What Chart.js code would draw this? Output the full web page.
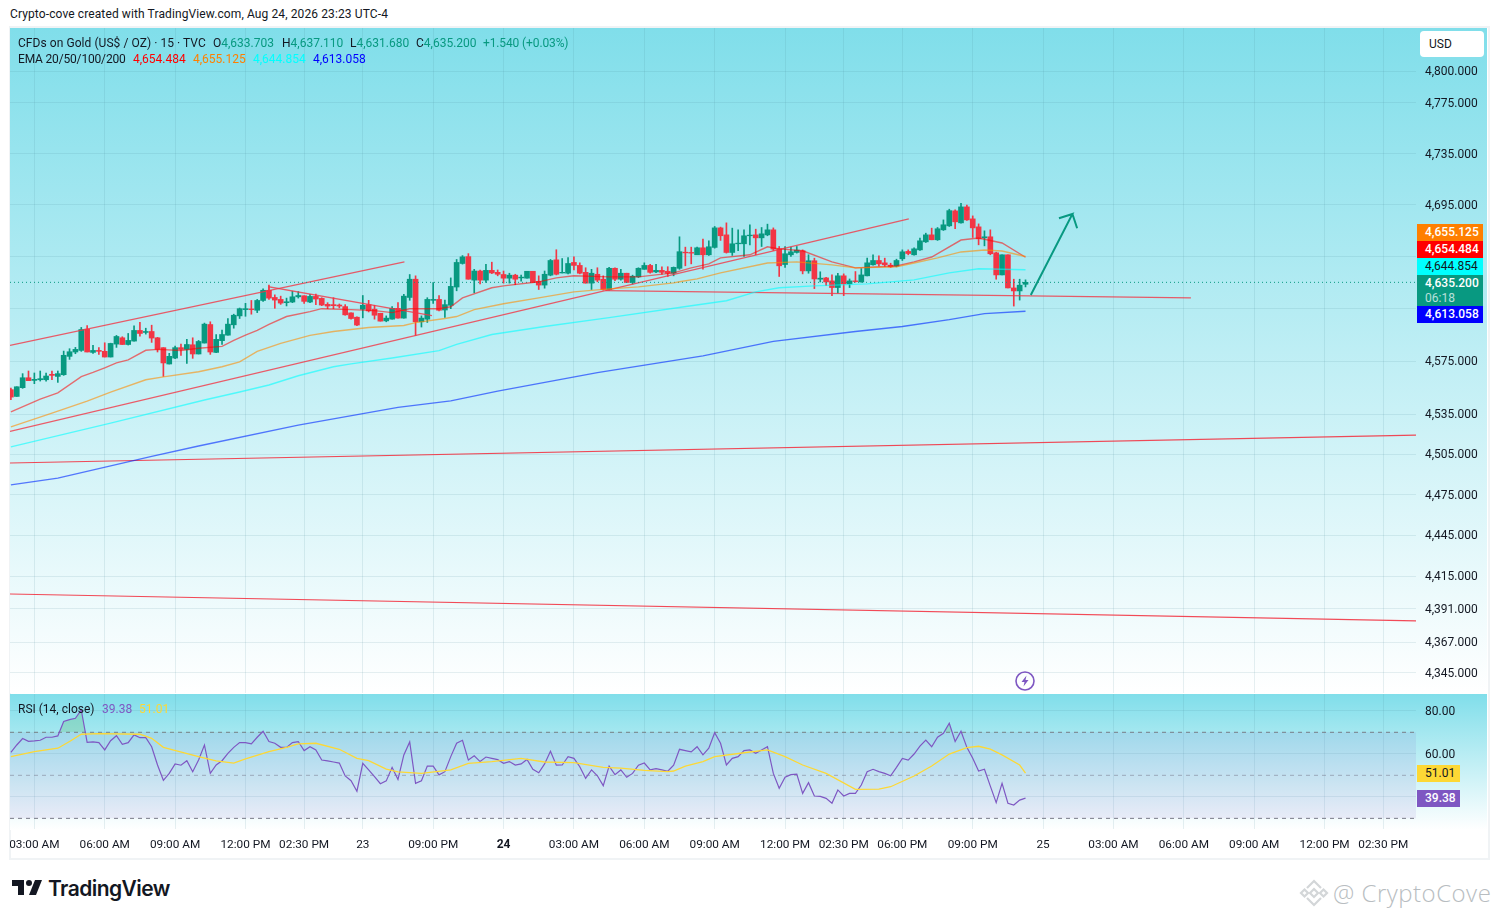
<!DOCTYPE html>
<html>
<head>
<meta charset="utf-8">
<title>CFDs on Gold</title>
<script src="https://cdn.jsdelivr.net/npm/chart.js@4"></script>
<style>
html,body{margin:0;padding:0;background:#fff;width:1498px;height:918px;overflow:hidden;font-family:Roboto,sans-serif;font-size:12px;color:#131722}
.abs{position:absolute;white-space:nowrap;line-height:16px}
#frame{position:absolute;left:9px;top:26px;width:1477px;height:830px;border:2px solid #f0f3f5}
#mainBg{position:absolute;left:10px;top:28px;width:1477px;height:665px;background:linear-gradient(#80deea,#fff)}
#rsiBg{position:absolute;left:10px;top:694px;width:1477px;height:136px;background:linear-gradient(#80deea,#fff)}
canvas{position:absolute;left:10px}
.tag{position:absolute;left:1417px;width:66px;text-align:left;padding-left:8px;box-sizing:border-box;line-height:17px;height:17px;font-weight:500;color:#fff}
</style>
</head>
<body>
<div id="frame"></div>
<div id="mainBg"></div>
<div id="rsiBg"></div>
<canvas id="mainChart" style="top:28px" width="1478" height="665"></canvas>
<canvas id="rsiChart" style="top:694px" width="1478" height="164"></canvas>

<div class="abs" style="left:10px;top:6px;letter-spacing:.11px">Crypto-cove created with TradingView.com, Aug 24, 2026 23:23 UTC-4</div>

<div class="abs" style="left:18px;top:34.5px;letter-spacing:.06px">CFDs on Gold (US$ / OZ) · 15 · TVC</div>
<div class="abs" style="left:213px;top:34.5px">O<span style="color:#089981">4,633.703</span></div>
<div class="abs" style="left:282px;top:34.5px">H<span style="color:#089981">4,637.110</span></div>
<div class="abs" style="left:350px;top:34.5px">L<span style="color:#089981">4,631.680</span></div>
<div class="abs" style="left:416px;top:34.5px">C<span style="color:#089981">4,635.200</span></div>
<div class="abs" style="left:483px;top:34.5px;color:#089981;letter-spacing:-.12px">+1.540 (+0.03%)</div>
<div class="abs" style="left:18px;top:51px;letter-spacing:-.17px">EMA 20/50/100/200</div>
<div class="abs" style="left:133px;top:51px;color:#ff0000">4,654.484</div>
<div class="abs" style="left:193px;top:51px;color:#ff7f00">4,655.125</div>
<div class="abs" style="left:253px;top:51px;color:#00ffff">4,644.854</div>
<div class="abs" style="left:313px;top:51px;color:#0000ff">4,613.058</div>

<div class="abs" style="left:1420px;top:31px;width:64px;height:26px;background:#fff;border-radius:4px;line-height:26px;text-indent:9px">USD</div>

<div class="tag" style="top:224px;background:#ff7f00">4,655.125</div>
<div class="tag" style="top:241px;background:#ff0000">4,654.484</div>
<div class="tag" style="top:258px;background:#00ffff;color:#131722;font-weight:400">4,644.854</div>
<div class="tag" style="top:275px;height:31px;background:#089981">4,635.200<br><span style="font-weight:400;opacity:.7;position:relative;top:-2px">06:18</span></div>
<div class="tag" style="top:306px;background:#0000ff">4,613.058</div>

<div class="abs" style="left:18px;top:701px">RSI (14, close)</div>
<div class="abs" style="left:102px;top:701px;color:#7e57c2">39.38</div>
<div class="abs" style="left:139px;top:701px;color:#fdd835">51.01</div>
<div class="tag" style="top:765px;width:43px;background:#fdd835;color:#131722;font-weight:400">51.01</div>
<div class="tag" style="top:790px;width:43px;background:#7e57c2">39.38</div>

<svg class="abs" style="left:1015px;top:671px" width="20" height="20" viewBox="0 0 20 20">
  <circle cx="10" cy="10" r="9" fill="none" stroke="#7e57c2" stroke-width="1.6"/>
  <path d="M11.5 4.5 6.5 11h3l-1 4.5 5-6.5h-3z" fill="#7e57c2"/>
</svg>

<svg class="abs" style="left:10px;top:874px" width="36" height="28" viewBox="0 0 36 28">
  <path fill="#131722" d="M14 6H2v6h6v9h6V6Zm12 15h-7l6-15h7l-6 15Zm-7-9a3 3 0 1 0 0-6 3 3 0 0 0 0 6Z"/>
</svg>
<div class="abs" style="left:48px;top:877px;font-family:Inter,sans-serif;font-weight:600;font-size:21px;line-height:24px;letter-spacing:-.55px">TradingView</div>

<svg class="abs" style="left:1299px;top:878px" width="30" height="30" viewBox="0 0 30 30">
  <g fill="none" stroke="#d3d6d8" stroke-width="2.2">
    <path d="M8 10 15 3l7 7"/><path d="M8 20l7 7 7-7"/>
    <path d="M2 15l3.5-3.5L9 15l-3.5 3.5z"/><path d="M21 15l3.5-3.5L28 15l-3.5 3.5z"/>
    <path d="M11 15l4-4 4 4-4 4z"/>
  </g>
</svg>
<div class="abs" style="left:1333px;top:878px;font-family:'Open Sans',sans-serif;font-weight:300;font-size:24px;line-height:30px;color:#b8bdc1;letter-spacing:.5px">@ CryptoCove</div>

<script>
// ---- candles (15 min bars, price in USD/oz) ----
const opens = [
4553.5,4548.4,4555,4562.5,4560.5,4561,4561,4565.1,4563.5,4564.8,
4578.7,4582,4583.2,4599.4,4581.7,4583.2,4582.5,4578.2,4588,4592.8,
4587.7,4590.3,4598.4,4596.9,4597.6,4592.8,4585.3,4572.9,4577.4,4585.3,
4584,4587.5,4580.5,4588.8,4602.9,4581.7,4590.6,4594.8,4602.7,4609.5,
4614.3,4614.8,4613.8,4621.3,4629.1,4623.6,4622.1,4619.6,4620.1,4624.1,
4624.9,4620.1,4624.4,4622.9,4618.3,4618.1,4617.8,4616.6,4611.8,4608.5,
4614.6,4618.1,4614.6,4611.5,4605.7,4607,4615.3,4607.8,4623.6,4637.6,
4605,4607,4621.4,4622.1,4614,4617.6,4631.6,4649.7,4655,4636.9,
4643.9,4636.9,4644.4,4642.9,4641.2,4638.4,4640.7,4638.6,4638.4,4643.7,
4635.9,4633.1,4640.7,4652.5,4642.4,4642.2,4650.5,4648.2,4642.9,4634.6,
4641.4,4637.6,4629.7,4646,4637.6,4642.2,4635.1,4639.4,4645.2,4648.2,
4643.2,4644.4,4643.7,4642.2,4646,4658.4,4658.2,4656.4,4661.8,4656.4,
4662.1,4677.2,4671.8,4658.2,4664.9,4664.9,4671.1,4671.8,4669.5,4671.8,
4675.7,4661,4648.9,4656.4,4658.2,4659.5,4644,4651.8,4637.6,4638.6,
4636.3,4631.2,4640.2,4634,4636.3,4635.5,4640.2,4648.7,4652,4650.2,
4648.4,4647.6,4653.3,4659,4656.4,4660.2,4666.4,4671.8,4668,4675.7,
4678.8,4690.4,4681.1,4693.5,4684.2,4678,4669.5,4670.3,4657.9,4640.9,
4656.4,4630.9,4628.6,4633.703];
const highs = [
4554.7,4555.7,4565.6,4567.6,4566.1,4567.6,4566.1,4567.6,4567.6,4582.7,
4584.5,4585.5,4600.7,4602.2,4587,4585.3,4589,4588.7,4594.6,4593.6,
4596.1,4602,4604.5,4600.1,4602.4,4593.1,4585.3,4581,4586.5,4588,
4591.6,4592.8,4590.8,4604,4605,4595.3,4598.6,4607.5,4610.8,4615.5,
4619.1,4621.3,4622.1,4630.2,4633.1,4625.6,4624.6,4623.1,4628.4,4628.1,
4624.9,4625.9,4626.1,4623.4,4619.6,4623.4,4618.6,4618.1,4611.8,4608.8,
4625.1,4621.4,4617.6,4611.5,4609.5,4616.6,4619.6,4625.9,4641.2,4640.2,
4609.5,4623.4,4635.1,4625.1,4621.6,4638.6,4652.8,4655.8,4657.3,4645.2,
4644.7,4649,4650.7,4644.7,4643.9,4642.2,4641.4,4640.7,4643.7,4643.7,
4640.2,4643.9,4652.8,4660.3,4653.5,4654.3,4654.8,4650.2,4646.4,4645.2,
4646.4,4640.2,4646.7,4646.4,4645.2,4642.2,4640.7,4646.4,4650.2,4649,
4649,4647.2,4647.2,4647,4670.3,4662.3,4662.3,4662.3,4668.5,4667.2,
4678.3,4677.8,4681.1,4677,4675.7,4675.7,4679.6,4676.2,4677.5,4680.1,
4677.2,4662.8,4662.8,4662.3,4662.8,4660.2,4656.4,4653.8,4643.3,4639.1,
4640.9,4642.2,4641.7,4637.8,4643.5,4645.8,4653.8,4656.4,4655.6,4653.8,
4649.9,4653,4660.2,4660.2,4661.8,4669.3,4673.1,4677,4677.5,4683.4,
4691.7,4691.2,4696.3,4695,4686.5,4680.3,4674.9,4675.7,4658.4,4656.4,
4656.4,4637.6,4637.6,4637.11];
const lows = [
4545.9,4548.4,4554.5,4560.3,4558,4560,4560,4561,4559,4564.3,
4576.4,4580.7,4582.5,4582,4581,4580.2,4578.2,4578.2,4585.5,4587.7,
4587.3,4590.3,4594.1,4595.6,4589.3,4582,4563.5,4572.9,4576.9,4579.5,
4573.4,4577.2,4580.5,4588.8,4580.2,4581.5,4587.7,4594.8,4600.1,4607.5,
4609.2,4610.8,4612,4620.6,4622.1,4615.3,4618.3,4617.1,4619.6,4623.1,
4619.1,4619.6,4618.1,4617.3,4615,4615,4615.6,4610,4607,4602,
4608,4612.5,4607,4605.5,4605,4607,4607.8,4607.8,4621.4,4594.6,
4601,4604.5,4619.1,4613.3,4608.3,4615,4628.7,4649.2,4637.6,4627.2,
4633.9,4635.1,4641.9,4640.2,4634.6,4634.6,4633.4,4636.1,4638.4,4635.1,
4629.7,4630.7,4640.2,4640.9,4642.4,4641.7,4644.7,4641.7,4634.6,4629.7,
4635.6,4629.2,4629.2,4636.4,4636.9,4635.1,4633.9,4638.9,4645.2,4642.2,
4642.7,4641.4,4639.7,4640.2,4645.2,4647.9,4649.4,4656.4,4645.3,4655.9,
4661.5,4667.5,4657.7,4655.9,4659.5,4655.1,4664.1,4656.4,4662.8,4671.1,
4659.7,4639.7,4646.6,4655.1,4657.7,4641.7,4642.2,4630.4,4635.5,4632.7,
4625,4626.8,4625,4631.2,4635.3,4635.3,4640.2,4648.4,4647.9,4647.4,
4646.6,4647.1,4652,4656.4,4656.1,4659.7,4665.9,4668,4667.5,4675.2,
4678.3,4676.5,4680.9,4682.9,4669.8,4664.1,4663.3,4656.4,4637.6,4640.9,
4630.9,4617,4621.6,4631.68];
const closes = [
4547.9,4555.7,4562.5,4560.3,4561.3,4561.8,4563.8,4564.3,4565.6,4579.5,
4582.2,4584,4599.1,4582,4583.2,4582.5,4578.2,4588.5,4593.8,4587.7,
4590.8,4598.4,4596.1,4597.6,4592.6,4584,4573.7,4578.7,4585.3,4584,
4587.7,4580.5,4590,4603.2,4582,4591.6,4595.3,4603.2,4610,4615,
4615,4614.3,4621.3,4629.1,4623.1,4621.6,4619.3,4620.3,4624.1,4625.1,
4620.6,4624.4,4622.4,4617.8,4617,4617.3,4617,4610.3,4607.5,4602.5,
4617.6,4613.3,4610,4605.5,4607.8,4615.3,4607.8,4624.6,4637.6,4605,
4607.8,4622.1,4622.1,4613.8,4618.1,4632.1,4650.5,4654.8,4637.6,4643.9,
4636.9,4644.4,4642.4,4641.4,4638.4,4640.7,4637.6,4639.2,4643.7,4635.1,
4633.1,4641.4,4652,4641.4,4642.9,4649.7,4648.2,4642.2,4634.6,4642.2,
4636.9,4629.7,4646,4637.6,4642.2,4635.1,4639.9,4646,4648.2,4642.9,
4644.4,4642.9,4642.2,4646.7,4658.8,4657.9,4657.7,4661.8,4656.4,4662.6,
4677.2,4671.1,4658.2,4664.9,4665.4,4671.1,4671.6,4669.5,4672.6,4675.7,
4660.8,4647.9,4657.2,4658.7,4660,4644,4651.8,4637.8,4638.4,4635.5,
4631.2,4640.2,4634,4636.3,4635.8,4640.9,4650.2,4652,4649.4,4648.7,
4647.1,4652,4658.7,4657.4,4661,4667.2,4671.8,4668,4676.5,4679.6,
4690.6,4681.9,4693.5,4683.4,4677.2,4668.7,4670.3,4657.2,4640.9,4656.4,
4630.9,4628.6,4633,4635.2];

// ---- moving averages, read at their visible bends: [bar index], [value] ----
const ema20Bars = [0,5,8,12,14,16,18,20,23,25,29,32,36,38,40,42,44,47,51,53,58,62,65,68,73,75,77,82,84,90,93,96,102,107,113,116,119,121,126,129,131,135,140,144,151,154,157,162,165,169,173];
const ema20 = [4536.7,4546.4,4551.1,4563.4,4566.5,4570,4573.8,4576,4583.3,4584,4583.2,4584.8,4586.3,4590.8,4594.8,4598.4,4603,4609,4612.8,4615,4614.3,4613.5,4612,4615,4615,4616.5,4623.3,4631,4632.5,4635.6,4638.6,4640.2,4639.4,4639.4,4642.5,4646.3,4649.4,4654,4656.4,4662.6,4661,4659.5,4650.9,4646.3,4647.8,4650.9,4654.7,4667.8,4669.4,4665.5,4654.484];
const ema50Bars = [0,7,13,17,23,26,32,36,39,42,46,51,55,58,61,67,69,74,76,79,84,90,96,102,107,113,114,117,119,121,129,134,140,144,151,154,158,162,166,169,173];
const ema50 = [4525.5,4535.8,4544.9,4551.7,4561,4563.2,4567,4570.8,4574.5,4582.5,4588.6,4594.6,4597.6,4599.1,4600.6,4602.2,4604.4,4607.5,4609,4614.3,4618.8,4623.3,4627.9,4630.2,4631.7,4634.8,4635.6,4637.9,4640.2,4642.5,4650.1,4650.9,4648.6,4646.3,4647.1,4650.1,4654,4658.6,4660.1,4659.3,4655.125];
const ema100Bars = [0,17,33,39,44,49,55,58,65,73,76,82,91,102,116,122,127,131,137,146,154,160,165,173];
const ema100 = [4510.5,4528.3,4545.7,4551.7,4557,4564,4570.8,4573,4577.5,4583,4587.8,4595.3,4601.4,4608.2,4617.3,4621.1,4627.9,4631,4632.5,4634,4637.1,4642.5,4645.6,4644.854];
const ema200Bars = [0,8,24,32,49,66,75,83,100,118,130,144,152,160,166,173];
const ema200 = [4482.2,4487.3,4503.5,4511.2,4526.8,4540.2,4545,4552.4,4566.3,4579,4590,4597.6,4601.4,4606.7,4611.3,4613.058];

// ---- hand-drawn trend lines: [bar index], [price] ----
const upperChannelBars = [-0.15,67.1];      const upperChannel = [4587,4650.9];
const lowerChannelBars = [-0.15,153.1];     const lowerChannel = [4522.2,4684.2];
const wedgeBars = [44,44,71.8];             const wedge = [4627.2,4631.7,4609.7];
const supportBars = [101.4,201.2];          const support = [4628.9,4623.3];
const highLineBars = [-0.15,239.58];        const highLine = [4498.5,4519.4];
const lowLineBars = [-0.15,239.58];         const lowLine = [4401.9,4382.3];
const arrowBars = [173.9,181,178.7,181,181.8];
const arrowPrices = [4625.5,4688,4684.7,4688,4676.9];
const lastPrice = 4635.2;

// ---- axes ----
const priceTicks = [4800,4775,4735,4695,4655,4615,4575,4535,4505,4475,4445,4415,4391,4367,4345];
const timeBars = [4,16,28,40,50,60,72,84,96,108,120,132,142,152,164,176,188,200,212,224,234];
const timeLabels = ['03:00 AM','06:00 AM','09:00 AM','12:00 PM','02:30 PM','23','09:00 PM','24','03:00 AM','06:00 AM','09:00 AM','12:00 PM','02:30 PM','06:00 PM','09:00 PM','25','03:00 AM','06:00 AM','09:00 AM','12:00 PM','02:30 PM'];
const boldTimeBars = [84];
const rsiTicks = [80,60,40];

// ---- RSI(14) per bar and its smoothing line ----
const rsi = [
60.7,64.1,67.1,65.8,66,66.3,67.7,67.7,68.3,75,
75.9,76.5,80.4,65.3,65.5,65.2,61.8,66.1,68.4,64.4,
65.2,68.8,67.5,67.5,63.3,54.8,47.7,50.9,55.3,54.7,
56.8,51.7,57.1,64.1,50.9,54.8,56.8,60.2,63,65.2,
65.2,64.6,67.7,70.5,65.7,64.9,63,63,65.2,65.7,
61.5,63.3,61.8,57.1,56.7,56.2,55.7,49.7,47.5,42.6,
55.6,52.5,49.4,46.1,47.4,53.7,48.1,59.5,65.5,46.3,
47.5,54.3,54.3,50.2,51.7,58.7,64.9,66.3,57.1,59.1,
56.4,58.5,57.9,57.3,55.6,56.4,54.8,55.3,57.4,52.8,
51.2,55.3,61.2,54.7,54.8,58.7,57.9,54,48.6,52.5,
49.8,45.2,54.3,50.3,52.5,49.1,50.9,54.7,55.7,52.5,
53.1,52.5,51.9,54.7,62.1,61.5,60.9,63.3,59.5,62.6,
69.8,64.9,54.8,57.9,58.7,61.5,61.8,60.2,61.8,63.3,
50.9,44,49.1,50.3,50.6,41.6,46.6,40.4,40.2,39.3,
37,43.2,40.4,41.6,41.6,45.5,51.7,52.8,51.7,50.9,
49.8,53.7,57.9,57.1,59.9,63.6,66.4,63.3,67.7,69.5,
74.2,65.7,70.5,63,57.9,52,52.8,45,37.3,46.3,
37,36.2,38.5,39.38];
const rsiMaBars = [0,4,8,10,12,15,22,24,26,32,35,38,40,44,47,49,52,56,59,61,64,66,70,75,78,82,87,91,96,101,104,108,112,113,115,118,120,125,129,132,135,139,144,148,150,154,157,160,163,165,167,169,172,173];
const rsiMa = [58.7,61,62.6,65.7,69.1,69.4,69.1,67.2,63,58.7,56.7,55.7,57.6,61,63,64.6,64.9,62.1,57.9,56.8,52.9,51.6,50.9,52.5,55.6,56.4,57.9,56.2,55.9,53.7,53.3,52.3,51.7,52,54.3,56.4,58.7,60.5,61.8,58.7,54.8,50.9,43.5,43.6,44.7,49.7,54.3,59.9,62.9,63.5,62.2,59.5,54.8,51.01];
const rsiUpper = 70, rsiMiddle = 50, rsiLower = 30;

// ---- helpers ----
const xMin = -0.153, xMax = 239.58;
const UP = '#089981', DOWN = '#f23645';
const GRID = 'rgba(70,130,150,0.13)';
const FONT = {family:'Roboto, sans-serif', size:12};
const zip = (xs, ys) => xs.map((x,i)=>({x, y:ys[i]}));
const lineDs = (xs, ys, color, width, extra) => Object.assign({
  type:'line', data:zip(xs,ys), borderColor:color, borderWidth:width,
  pointRadius:0, tension:0, fill:false, order:1
}, extra||{});
const barColors = closes.map((c,i)=> c>=opens[i] ? UP : DOWN);
const barIdx = closes.map((_,i)=>i);
const xScale = (extra) => Object.assign({
  type:'linear', min:xMin, max:xMax, bounds:'data', offset:false,
  grid:{color:GRID, drawTicks:false, offset:false},
  border:{display:false},
  afterBuildTicks:s=>{s.ticks = timeBars.map(v=>({value:v}));},
}, extra);
const zeroPad = s => {s.paddingLeft=s.paddingRight=s.paddingTop=s.paddingBottom=0;};

new Chart(document.getElementById('mainChart'), {
  type:'bar',
  data:{datasets:[
    {type:'bar', data:barIdx.map(i=>({x:i,y:[lows[i],highs[i]]})), backgroundColor:barColors, barThickness:1, grouped:false, order:6},
    {type:'bar', data:barIdx.map(i=>({x:i,y:[opens[i],closes[i]]})), backgroundColor:barColors, barThickness:5, grouped:false, order:5},
    lineDs(ema200Bars, ema200, 'rgba(0,40,255,0.62)', 1.3),
    lineDs(ema100Bars, ema100, 'rgba(0,255,255,0.6)', 1.4),
    lineDs(ema50Bars, ema50, 'rgba(255,140,0,0.6)', 1.4),
    lineDs(ema20Bars, ema20, 'rgba(255,0,0,0.55)', 1.4),
    lineDs([xMin,xMax], [lastPrice,lastPrice], UP, 1, {borderDash:[1,3]}),
    lineDs(upperChannelBars, upperChannel, 'rgba(242,54,69,0.8)', 1.3),
    lineDs(lowerChannelBars, lowerChannel, 'rgba(242,54,69,0.8)', 1.3),
    lineDs(wedgeBars, wedge, 'rgba(242,54,69,0.8)', 1.3),
    lineDs(supportBars, support, 'rgba(242,54,69,0.8)', 1.3),
    lineDs(highLineBars, highLine, 'rgba(242,54,69,0.9)', 1.2),
    lineDs(lowLineBars, lowLine, 'rgba(242,54,69,0.9)', 1.2),
    lineDs(arrowBars, arrowPrices, UP, 2, {order:0}),
  ]},
  options:{
    responsive:false, animation:false, devicePixelRatio:1,
    layout:{padding:0},
    plugins:{legend:{display:false}, tooltip:{enabled:false}},
    scales:{
      x:xScale({ticks:{display:false, autoSkip:false}, afterFit:s=>{s.height=0; zeroPad(s);}}),
      y:{
        type:'logarithmic', position:'right', min:4330.3, max:4834.7, bounds:'data',
        grid:{color:GRID, drawTicks:false},
        border:{display:false},
        afterBuildTicks:s=>{s.ticks = priceTicks.map(v=>({value:v}));},
        ticks:{autoSkip:false, padding:9, labelOffset:1, color:'#131722', font:FONT,
          callback:v=>v.toLocaleString('en-US',{minimumFractionDigits:3,maximumFractionDigits:3})},
        afterFit:s=>{s.width=72; zeroPad(s);}
      }
    }
  }
});

new Chart(document.getElementById('rsiChart'), {
  type:'line',
  data:{datasets:[
    lineDs([xMin,xMax],[rsiUpper,rsiUpper],'#787b86',1,{borderDash:[4,4],fill:'+1',backgroundColor:'rgba(126,87,194,0.1)',order:4}),
    lineDs([xMin,xMax],[rsiLower,rsiLower],'#787b86',1,{borderDash:[4,4],order:4}),
    lineDs([xMin,xMax],[rsiMiddle,rsiMiddle],'rgba(120,123,134,0.55)',1,{borderDash:[4,4],order:4}),
    lineDs(barIdx,rsi,'#7e57c2',1.2,{order:2,fill:{target:{value:rsiUpper},above:'rgba(76,175,80,0.22)',below:'rgba(0,0,0,0)'}}),
    lineDs(rsiMaBars,rsiMa,'#fdd835',1.3,{order:1}),
  ]},
  options:{
    responsive:false, animation:false, devicePixelRatio:1,
    layout:{padding:0},
    plugins:{legend:{display:false}, tooltip:{enabled:false}},
    scales:{
      x:xScale({
        ticks:{autoSkip:false, maxRotation:0, minRotation:0, padding:9, color:'#131722',
          font:c=> (c.tick && boldTimeBars.includes(c.tick.value)) ? {family:FONT.family,size:12,weight:'bold'} : {family:FONT.family,size:11.8},
          callback:v=>timeLabels[timeBars.indexOf(v)] },
        afterFit:s=>{s.height=29; zeroPad(s);}
      }),
      y:{
        type:'linear', position:'right', min:25.05, max:87.8, bounds:'data',
        grid:{color:GRID, drawTicks:false},
        border:{display:false},
        afterBuildTicks:s=>{s.ticks = rsiTicks.map(v=>({value:v}));},
        ticks:{autoSkip:false, padding:9, labelOffset:1, color:'#131722', font:FONT, callback:v=>v.toFixed(2)},
        afterFit:s=>{s.width=72; zeroPad(s);}
      }
    }
  }
});
</script>
</body>
</html>
